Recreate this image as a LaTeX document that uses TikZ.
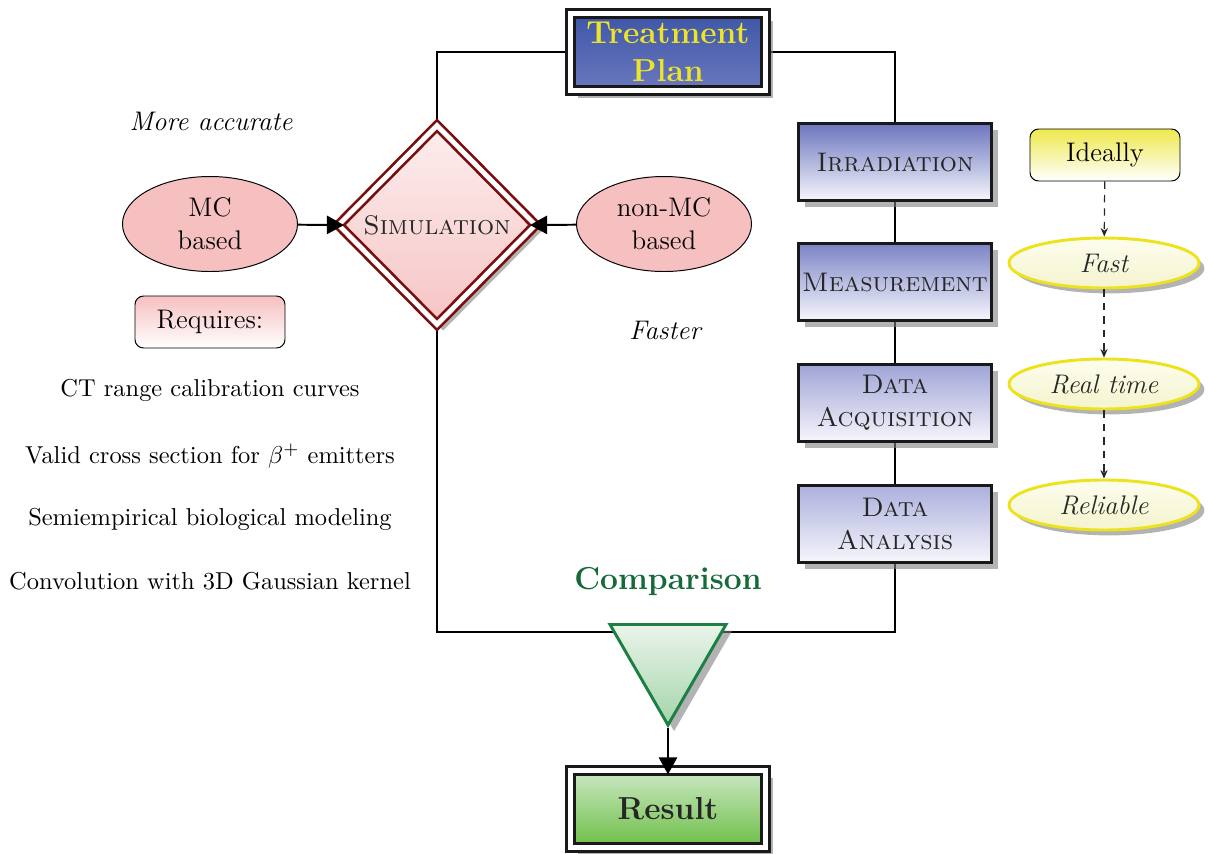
\documentclass[tikz,border=0pt]{standalone}
\usetikzlibrary{shapes.geometric,shadows,arrows.meta,backgrounds}
\newlength{\unitpx}
\setlength{\unitpx}{0.409pt}
\newcommand{\basefont}{\fontsize{11}{13.6}\selectfont}
\newcommand{\headfont}{\fontsize{13}{15.5}\selectfont\bfseries}
\definecolor{planTop}{RGB}{62,86,168}
\definecolor{planBot}{RGB}{106,120,190}
\definecolor{planText}{RGB}{236,228,40}
\definecolor{simRed}{RGB}{122,14,14}
\definecolor{simTop}{RGB}{253,238,238}
\definecolor{simBot}{RGB}{246,196,196}
\definecolor{mcPink}{RGB}{246,192,192}
\definecolor{stageBot}{RGB}{246,246,252}
\definecolor{irrTop}{RGB}{108,118,190}
\definecolor{measTop}{RGB}{124,132,198}
\definecolor{acqTop}{RGB}{160,164,214}
\definecolor{anaTop}{RGB}{172,176,220}
\definecolor{cmpGreen}{RGB}{28,128,68}
\definecolor{cmpText}{RGB}{22,106,58}
\definecolor{cmpTop}{RGB}{234,244,234}
\definecolor{cmpBot}{RGB}{164,212,170}
\definecolor{resTop}{RGB}{204,232,196}
\definecolor{resBot}{RGB}{108,190,70}
\definecolor{idealTop}{RGB}{238,232,76}
\definecolor{goalEdge}{RGB}{236,226,30}
\definecolor{goalTop}{RGB}{253,253,238}
\definecolor{goalBot}{RGB}{244,244,206}
\tikzset{
  softshadow/.style={drop shadow={shadow xshift=#1, shadow yshift=-#1, opacity=0.6, fill=black!50}},
  framedbox/.style={rectangle, draw=black!90, line width=1.2pt, double=white, double distance=2pt,
    minimum width=195\unitpx, minimum height=77\unitpx, align=center, font=\headfont,
    softshadow=3pt},
  simbox/.style={diamond, draw=simRed, line width=1.1pt, double=white, double distance=2pt,
    top color=simTop, bottom color=simBot, minimum width=198\unitpx, minimum height=200\unitpx,
    inner sep=0pt, font=\basefont\scshape, text=black!85, softshadow=2.5pt},
  methodbox/.style={ellipse, draw=black, line width=0.4pt, fill=mcPink, minimum width=175\unitpx,
    minimum height=95\unitpx, inner sep=0pt, align=center, font=\basefont},
  notebox/.style={rectangle, rounded corners=3.5pt, draw=black, line width=0.4pt,
    minimum width=150\unitpx, minimum height=52\unitpx, bottom color=white, font=\basefont},
  stagebox/.style={rectangle, draw=black!90, line width=1.2pt, bottom color=stageBot,
    minimum width=193\unitpx, minimum height=77\unitpx, inner xsep=1pt, align=center,
    font=\basefont\scshape, text=black!85, softshadow=2.5pt},
  goalbox/.style={ellipse, draw=goalEdge, line width=1.2pt, top color=goalTop, bottom color=goalBot,
    minimum width=190\unitpx, minimum height=50\unitpx, inner sep=0pt, font=\basefont\itshape,
    text=black!85, softshadow=2.2pt},
  cmpbox/.style={regular polygon, regular polygon sides=3, shape border rotate=180,
    draw=cmpGreen, line width=1.2pt, top color=cmpTop, bottom color=cmpBot,
    minimum size=134\unitpx, inner sep=0pt, softshadow=2.5pt},
  remark/.style={font=\basefont\itshape},
  reqitem/.style={font=\normalsize},
  link/.style={draw=black, line width=0.8pt},
  bigarrow/.style={link, -{Triangle[length=7pt,width=7.5pt]}},
  hintarrow/.style={draw=black!85, line width=0.5pt, dash pattern=on 3pt off 2.5pt,
    -{Stealth[length=3.5pt,width=3pt]}}
}
\begin{document}
\begin{tikzpicture}[x=\unitpx, y=-\unitpx]
\useasboundingbox (0,0) rectangle (1214,854);

% central planning and simulation branch
\node[framedbox, top color=planTop, bottom color=planBot, text=planText] (plan) at (668,52) {Treatment\\Plan};
\node[simbox] (sim) at (437,225) {Simulation};
\node[methodbox] (mc) at (210,224) {MC\\based};
\node[methodbox] (nonmc) at (664,224) {non-MC\\based};
\node[remark] (acc) at (211,121) {More accurate};
\node[remark] (fast) at (665,330) {Faster};

% requirements of the MC approach
\node[notebox, top color=mcPink] (req) at (210,322) {Requires:};
\node[reqitem] (r1) at (210,390) {CT range calibration curves};
\node[reqitem] (r2) at (210,456) {Valid cross section for $\beta^{+}$ emitters};
\node[reqitem] (r3) at (210,519) {Semiempirical biological modeling};
\node[reqitem] (r4) at (210,581) {Convolution with 3D Gaussian kernel};

% measurement chain
\node[stagebox, top color=irrTop] (irr) at (895,162) {Irradiation};
\node[stagebox, top color=measTop] (meas) at (895,282) {Measurement};
\node[stagebox, top color=acqTop] (acq) at (895,403) {Data\\Acquisition};
\node[stagebox, top color=anaTop] (ana) at (895,524) {Data\\Analysis};

% comparison and result
\node[font=\headfont, text=cmpText] (cmplbl) at (668,581) {Comparison};
\node[cmpbox] (cmp) at (668,658) {};
\node[framedbox, top color=resTop, bottom color=resBot, text=black!85] (res) at (668,809) {Result};
\coordinate (join) at (668,632);

% desired properties
\node[notebox, top color=idealTop] (ideal) at (1105,155) {Ideally};
\node[goalbox] (gfast) at (1104,263) {Fast};
\node[goalbox] (greal) at (1104,384) {Real time};
\node[goalbox] (grel) at (1104,505) {Reliable};

% connectors
\begin{scope}[on background layer]
  \draw[link] (plan.west) -| (sim.north);
  \draw[link] (plan.east) -| (irr.north);
  \draw[link] (irr) -- (meas);
  \draw[link] (meas) -- (acq);
  \draw[link] (acq) -- (ana);
  \draw[link] (sim.south) |- (join) -| (ana.south);
\end{scope}
\draw[bigarrow, shorten >=-3pt] (mc) -- (sim.west);
\draw[bigarrow, shorten >=-3pt] (nonmc) -- (sim.east);
\draw[bigarrow, shorten >=-2.2pt] (cmp.corner 1) -- (res.north);
\draw[hintarrow] (ideal) -- (gfast);
\draw[hintarrow] (gfast) -- (greal);
\draw[hintarrow] (greal) -- (grel);
\end{tikzpicture}
\end{document}
